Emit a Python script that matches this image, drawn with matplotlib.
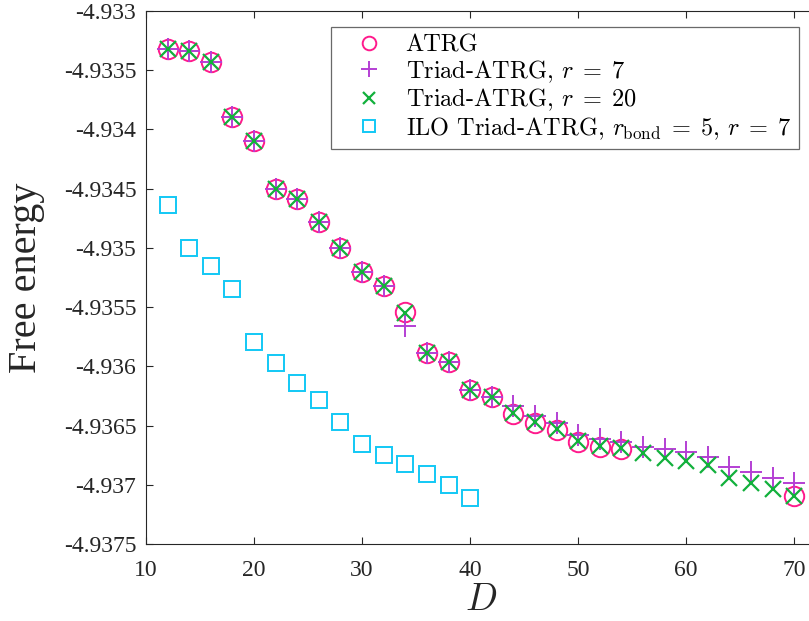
import matplotlib
matplotlib.use("Agg")
import matplotlib.pyplot as plt
from matplotlib.ticker import FixedLocator, FuncFormatter

plt.rcParams['font.family'] = ['Liberation Serif', 'DejaVu Serif']
plt.rcParams['mathtext.fontset'] = 'cm'
plt.rcParams['axes.unicode_minus'] = False

# bond dimension D
D_atrg = [12, 14, 16, 18, 20, 22, 24, 26, 28, 30, 32, 34, 36, 38, 40, 42, 44, 46, 48, 50, 52, 54, 70]
f_atrg = [-4.93332, -4.93334, -4.93343, -4.93390, -4.93410, -4.93450, -4.93459, -4.93478,
          -4.93500, -4.93520, -4.93532, -4.93554, -4.93589, -4.93596, -4.93620, -4.93626,
          -4.93640, -4.93648, -4.93654, -4.93664, -4.93668, -4.93670, -4.93709]

D_triad = [12, 14, 16, 18, 20, 22, 24, 26, 28, 30, 32, 34, 36, 38, 40, 42,
           44, 46, 48, 50, 52, 54, 56, 58, 60, 62, 64, 66, 68, 70]
f_r7 = [-4.93332, -4.93334, -4.93343, -4.93390, -4.93410, -4.93450, -4.93459, -4.93478,
        -4.93500, -4.93520, -4.93532, -4.93566, -4.93589, -4.93596, -4.93620, -4.93626,
        -4.93633, -4.93642, -4.93648, -4.93658, -4.93661, -4.93664, -4.93668, -4.93670,
        -4.93672, -4.93676, -4.93685, -4.93689, -4.93694, -4.93698]
f_r20 = [-4.93332, -4.93334, -4.93343, -4.93390, -4.93410, -4.93450, -4.93459, -4.93478,
         -4.93500, -4.93520, -4.93532, -4.93555, -4.93589, -4.93596, -4.93620, -4.93626,
         -4.93639, -4.93647, -4.93653, -4.93663, -4.93667, -4.93669, -4.93673, -4.93677,
         -4.93680, -4.93683, -4.93694, -4.93698, -4.93703, -4.93709]

D_ilo = [12, 14, 16, 18, 20, 22, 24, 26, 28, 30, 32, 34, 36, 38, 40]
f_ilo = [-4.93464, -4.93500, -4.93515, -4.93535, -4.93579, -4.93597, -4.93614, -4.93628,
         -4.93647, -4.93665, -4.93675, -4.93682, -4.93691, -4.93700, -4.93711]

xticks = [10, 20, 30, 40, 50, 60, 70]
yticks = [-4.933, -4.9335, -4.934, -4.9345, -4.935, -4.9355, -4.936, -4.9365, -4.937, -4.9375]

fig = plt.figure(figsize=(8.09, 6.21), dpi=100)
ax = fig.add_axes([0.1805, 0.1235, 0.828, 0.8593])

ax.plot(D_atrg, f_atrg, 'o', ms=14, mfc='none', mec='#ff1a8c', mew=1.4,
        label='ATRG')
ax.plot(D_triad, f_r7, '+', ms=16, mec='#b43fd4', mew=1.4,
        label=r'Triad-ATRG, $r\;=\;7$')
ax.plot(D_triad, f_r20, 'x', ms=11.5, mec='#12b03c', mew=1.6,
        label=r'Triad-ATRG, $r\;=\;20$')
ax.plot(D_ilo, f_ilo, 's', ms=11.5, mfc='none', mec='#12c8f5', mew=1.4,
        label=r'ILO Triad-ATRG, $r_{\rm bond}\;=\;5$, $r\;=\;7$')

ax.set_xlim(10, 72)
ax.set_ylim(-4.9375, -4.933)
ax.xaxis.set_major_locator(FixedLocator(xticks))
ax.yaxis.set_major_locator(FixedLocator(yticks))
ax.yaxis.set_major_formatter(FuncFormatter(lambda v, p: '%g' % v))

for s in ax.spines.values():
    s.set_color('#262626')
    s.set_linewidth(0.8)
ax.tick_params(direction='in', length=5, width=0.8, color='#262626',
               top=True, right=True, labelsize=17, labelcolor='#262626')
ax.tick_params(axis='y', pad=7)
ax.tick_params(axis='x', pad=11)

ax.set_ylabel('Free energy', fontsize=29, color='#262626', va='center')
ax.yaxis.set_label_coords(-0.178, 0.5)
ax.set_xlabel('$D$', fontsize=27, color='#262626', va='center')
ax.xaxis.set_label_coords(0.5, -0.106)

# MATLAB-style legend with shrunken markers
leg = ax.legend(loc='upper left', bbox_to_anchor=(0.2768, 0.9696),
                prop={'family': 'cmr10', 'size': 17.5}, frameon=True, fancybox=False,
                edgecolor='#444444', borderpad=0.3, labelspacing=0.08,
                handletextpad=0.25, handlelength=2.5, borderaxespad=0,
                markerscale=0.7)
leg.get_frame().set_linewidth(0.9)

fig.savefig('out.png', dpi=100)
